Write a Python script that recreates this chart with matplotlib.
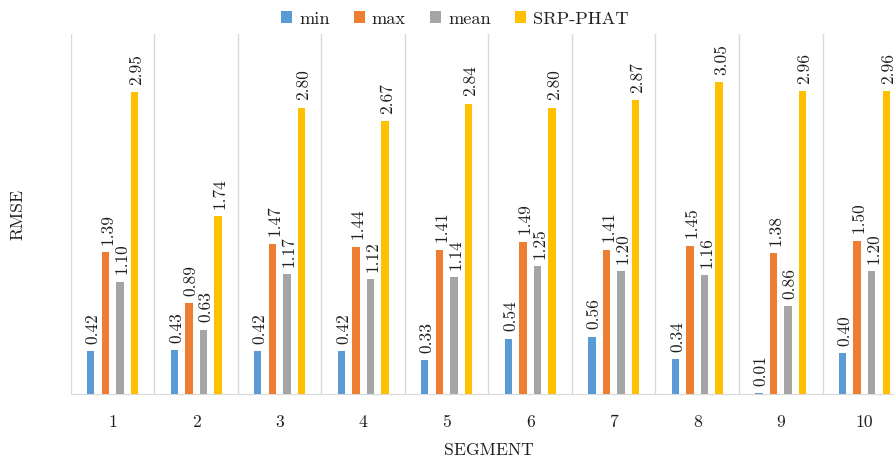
import matplotlib
matplotlib.use("Agg")
import matplotlib.pyplot as plt
import numpy as np

segments = ["1", "2", "3", "4", "5", "6", "7", "8", "9", "10"]
min_vals = [0.42, 0.43, 0.42, 0.42, 0.33, 0.54, 0.56, 0.34, 0.01, 0.40]
max_vals = [1.39, 0.89, 1.47, 1.44, 1.41, 1.49, 1.41, 1.45, 1.38, 1.50]
mean_vals = [1.10, 0.63, 1.17, 1.12, 1.14, 1.25, 1.20, 1.16, 0.86, 1.20]
srp_vals = [2.95, 1.74, 2.80, 2.67, 2.84, 2.80, 2.87, 3.05, 2.96, 2.96]
series_names = ["min", "max", "mean", "SRP-PHAT"]

plt.rcParams['font.family'] = ['cmr10', 'DejaVu Serif']
plt.rcParams['axes.formatter.use_mathtext'] = True

colors = ["#5B9BD5", "#ED7D31", "#A5A5A5", "#FFC000"]
txt_col = "#1f1f1f"

fig = plt.figure(figsize=(8.95, 4.60), dpi=100)
ax = fig.add_axes([0.0793, 0.1413, 0.933, 0.7826])

x = np.arange(len(segments))
step = 0.174
width = 0.085
offsets = [-1.5 * step, -0.5 * step, 0.5 * step, 1.5 * step]
all_series = [min_vals, max_vals, mean_vals, srp_vals]

for vals, off, col, name in zip(all_series, offsets, colors, series_names):
    ax.bar(x + off, vals, width=width, color=col, label=name, zorder=3)
    for xi, v in zip(x + off, vals):
        ax.annotate(f"{v:.2f}", (xi, v), xytext=(1.5, 6), textcoords="offset points",
                    rotation=90, ha="center", va="bottom", fontsize=12.5,
                    color=txt_col)

ax.set_xlim(-0.5, len(segments) - 0.5)
ax.set_ylim(0, 3.52)
ax.set_yticks([])
ax.set_xticks(x)
ax.set_xticklabels(segments, fontsize=12.7)
ax.tick_params(axis='x', length=0, pad=14, colors=txt_col)
for b in np.arange(-0.5, len(segments), 1.0):
    ax.axvline(b, color="#D9D9D9", lw=1, zorder=1)
for s in ["top", "right", "left"]:
    ax.spines[s].set_visible(False)
ax.spines["bottom"].set_color("#D9D9D9")
ax.set_xlabel("SEGMENT", fontsize=12.7, labelpad=9, color=txt_col)
fig.text(0.020, 0.533, "RMSE", fontsize=12.7, ha="center", va="center",
         rotation=90, color=txt_col)

fig.legend(loc="upper center", bbox_to_anchor=(0.508, 1.01), ncol=4, frameon=False,
           fontsize=13.2, handlelength=0.6, handleheight=0.6, handletextpad=0.4,
           columnspacing=1.3, labelcolor=txt_col)

fig.savefig("out.png", dpi=100)
